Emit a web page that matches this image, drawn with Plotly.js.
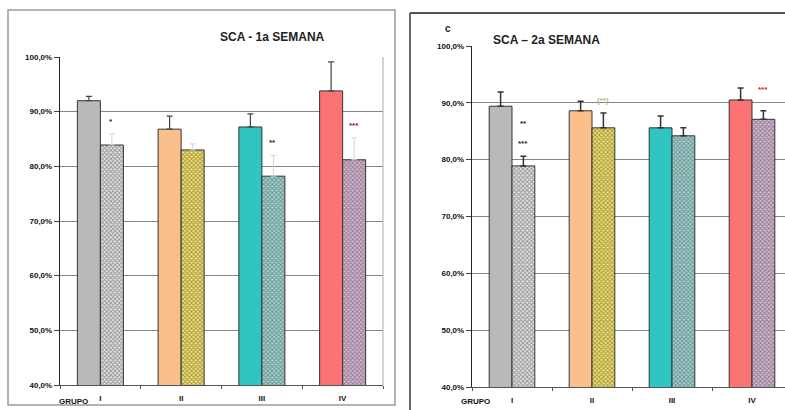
<!DOCTYPE html>
<html>
<head>
<meta charset="utf-8">
<script src="https://cdn.plot.ly/plotly-3.0.1.min.js"></script>
<style>
html,body{margin:0;padding:0;background:#fff;overflow:hidden;width:785px;height:410px;}
#chart{width:800px;height:410px;}
</style>
</head>
<body>
<div id="chart"></div>
<script>
// ---- data ----
var categories = ["I", "II", "III", "IV"];
var yTickVals = [40, 50, 60, 70, 80, 90, 100];
var yTickText = ["40,0%", "50,0%", "60,0%", "70,0%", "80,0%", "90,0%", "100,0%"];

var titleWeek1 = "SCA - 1a SEMANA";
var titleWeek2 = "SCA \u2013 2a SEMANA";
var panelLetter = "c";
var xAxisName = "GRUPO";

// week 1
var w1Solid = [92.0, 86.8, 87.2, 93.8];
var w1SolidErr = [0.8, 2.4, 2.4, 5.3];
var w1Hatch = [83.9, 83.0, 78.2, 81.2];
var w1HatchErr = [2.0, 1.1, 3.8, 4.0];
// week 2
var w2Solid = [89.4, 88.6, 85.6, 90.5];
var w2SolidErr = [2.5, 1.7, 2.1, 2.1];
var w2Hatch = [78.9, 85.6, 84.2, 87.1];
var w2HatchErr = [1.7, 2.6, 1.4, 1.5];

// significance marks: [category index, text, color]
var w1Marks = [[0, "*", "#222"], [2, "**", "#222"], [3, "***", "#7a1a1a"]];
var w2Marks = [[0, "***", "#222"], [0, "**", "#222"], [1, "(**)", "#b8b878"], [3, "***", "#d02828"]];

// ---- styles ----
var solidColors = ["#b9b9b9", "#fbbf8c", "#2fc5c0", "#fa7474"];
var hatchBg = ["#e4e4e4", "#f6e466", "#9ed8d4", "#d8b8d6"];
var hatchFg = ["#8a8a8a", "#c8ac20", "#1f8a86", "#8a5a88"];

function solidTrace(vals, errs, xa, ya, ecol, eth) {
  return {
    type: "bar", x: categories, y: vals, xaxis: xa, yaxis: ya,
    marker: {color: solidColors, line: {color: "#333", width: 1}},
    error_y: {type: "data", array: errs, arrayminus: errs.map(function(){return 0;}), symmetric: false,
              color: ecol, thickness: eth, width: 3},
    hoverinfo: "none", showlegend: false
  };
}
function hatchTrace(vals, errs, xa, ya, ecol, eth) {
  return {
    type: "bar", x: categories, y: vals, xaxis: xa, yaxis: ya,
    marker: {color: hatchBg, line: {color: "#333", width: 1},
             pattern: {shape: "x", fgcolor: hatchFg, bgcolor: hatchBg, size: 3, solidity: 0.5, fillmode: "overlay"}},
    error_y: {type: "data", array: errs, arrayminus: errs.map(function(){return 0;}), symmetric: false,
              color: ecol, thickness: eth, width: 3},
    hoverinfo: "none", showlegend: false
  };
}

var traces = [
  solidTrace(w1Solid, w1SolidErr, "x", "y", "#444", 1.2),
  hatchTrace(w1Hatch, w1HatchErr, "x", "y", "#d4d4d4", 1),
  solidTrace(w2Solid, w2SolidErr, "x2", "y2", "#333", 1.5),
  hatchTrace(w2Hatch, w2HatchErr, "x2", "y2", "#333", 1.5)
];

var tickFont = {family: "Liberation Sans, Arial", size: 8, color: "#111", weight: "bold"};

function yAxis(domain, anchor) {
  return {
    domain: domain, anchor: anchor, range: [40, 100], tickvals: yTickVals, ticktext: yTickText,
    showgrid: true, gridcolor: "#858585", gridwidth: 1, zeroline: false,
    showline: true, linecolor: "#222", linewidth: 1.2, ticks: "outside", ticklen: 5, tickcolor: "#444",
    tickfont: tickFont, fixedrange: true
  };
}
function xAxis(domain, anchor) {
  return {
    domain: domain, anchor: anchor, type: "category", showgrid: false, zeroline: false,
    showline: true, linecolor: "#555", linewidth: 1, mirror: false,
    ticks: "outside", tickson: "boundaries", ticklen: 3, tickcolor: "#555",
    ticklabelstandoff: 5,
    tickfont: tickFont, fixedrange: true
  };
}

var annotations = [];
function addMarks(marks, vals, errs, xa, ya) {
  var stackCount = {};
  marks.forEach(function(m) {
    var i = m[0];
    var n = stackCount[i] || 0;
    stackCount[i] = n + 1;
    annotations.push({
      xref: xa, yref: ya, x: categories[i], y: vals[i] + errs[i], xshift: 11,
      yshift: 6 + n * 20, yanchor: "bottom", showarrow: false, text: m[1],
      font: {family: "Liberation Sans, Arial", size: 8, color: m[2], weight: "bold"}
    });
  });
}
addMarks(w1Marks, w1Hatch, w1HatchErr, "x", "y");
addMarks(w2Marks.filter(function(m){return m[0] !== 1 && m[0] !== 3;}), w2Hatch, w2HatchErr, "x2", "y2");
// yellow and purple week-2 marks placed over the hatched bars
w2Marks.filter(function(m){return m[0] === 1 || m[0] === 3;}).forEach(function(m) {
  var i = m[0];
  var top = Math.max(w2Hatch[i] + w2HatchErr[i], w2Solid[i]);
  annotations.push({
    xref: "x2", yref: "y2", x: categories[i], y: top, xshift: 11, yshift: 4, yanchor: "bottom",
    showarrow: false, text: m[1], font: {family: "Liberation Sans, Arial", size: 8, color: m[2], weight: "bold"}
  });
});

var titleFont = {family: "Liberation Sans, Arial", size: 12, color: "#222", weight: "bold"};
annotations.push({xref: "paper", yref: "paper", x: 218/800, y: 1 - 28/410, text: titleWeek1, showarrow: false, font: titleFont});
annotations.push({xref: "paper", yref: "paper", x: 602/800, y: 1 - 31/410, text: titleWeek2, showarrow: false, font: titleFont});
annotations.push({xref: "paper", yref: "paper", x: 448/800, y: 1 - 28/410, yanchor: "middle", text: panelLetter, showarrow: false,
  font: {family: "Liberation Sans, Arial", size: 10, color: "#222", weight: "bold"}});
annotations.push({xref: "paper", yref: "paper", x: 90/800, y: 1 - 401/410, xanchor: "right", yanchor: "middle", text: xAxisName, showarrow: false, font: tickFont});
annotations.push({xref: "paper", yref: "paper", x: 492/800, y: 1 - 401/410, xanchor: "right", yanchor: "middle", text: xAxisName, showarrow: false, font: tickFont});

var layout = {
  width: 800, height: 410, margin: {l: 0, r: 0, t: 0, b: 0},
  paper_bgcolor: "#fff", plot_bgcolor: "#fff",
  barmode: "group", bargap: 0.43, bargroupgap: 0,
  xaxis: xAxis([60/800, 383/800], "y"),
  yaxis: yAxis([1 - 385/410, 1 - 57/410], "x"),
  xaxis2: xAxis([472/800, 792/800], "y2"),
  yaxis2: yAxis([1 - 387/410, 1 - 46/410], "x2"),
  annotations: annotations,
  shapes: [
    {type: "rect", xref: "paper", yref: "paper", x0: 8/800, x1: 395/800, y0: 1 - 405/410, y1: 1 - 10/410,
     line: {color: "#9a9a9a", width: 1.5}, layer: "below"},
    {type: "line", xref: "paper", yref: "paper", x0: 410/800, x1: 410/800, y0: 0, y1: 1 - 13/410,
     line: {color: "#666", width: 2}},
    {type: "line", xref: "paper", yref: "paper", x0: 410/800, x1: 1, y0: 1 - 13/410, y1: 1 - 13/410,
     line: {color: "#555", width: 2}},
    {type: "line", xref: "paper", yref: "paper", x0: 383/800, x1: 383/800, y0: 1 - 385/410, y1: 1 - 57/410,
     line: {color: "#aaa", width: 1}}
  ]
};

Plotly.newPlot("chart", traces, layout, {staticPlot: true, displayModeBar: false});
</script>
</body>
</html>
